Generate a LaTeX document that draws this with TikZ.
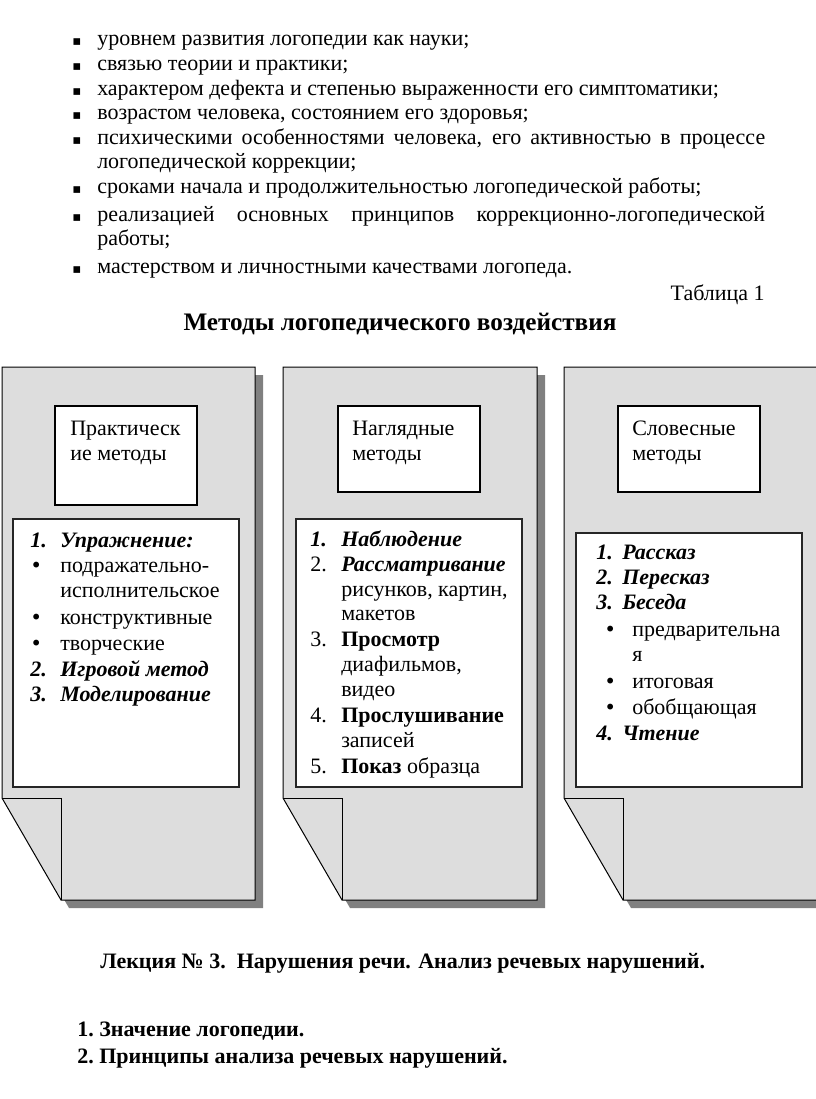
\documentclass[tikz,border=0pt]{standalone}
\usepackage{fontspec}
\setmainfont{Liberation Serif}
\newfontfamily\symfont{DejaVu Sans}
\definecolor{pagegray}{HTML}{DDDDDD}
\definecolor{shadowgray}{HTML}{808080}
\begin{document}
\begin{tikzpicture}[x=0.75pt,y=-0.75pt,
  txt/.style={anchor=base west,inner sep=0pt,font=\fontsize{16.5}{19}\selectfont},
  txtr/.style={anchor=base east,inner sep=0pt,font=\fontsize{16.5}{19}\selectfont},
  bold/.style={anchor=base west,inner sep=0pt,font=\fontsize{16.5}{19}\selectfont\bfseries},
  sq/.style={anchor=base west,inner sep=0pt,font=\symfont\fontsize{10}{11}\selectfont},
  dot/.style={anchor=base west,inner sep=0pt,font=\symfont\fontsize{15}{17}\selectfont},
  titlebox/.style={draw=black,fill=white,line width=2.2pt},
  contentbox/.style={draw=black!85,fill=white,line width=0.9pt},
  pageshape/.style={fill=pagegray,draw=black,line width=0.75pt}]
\useasboundingbox (0,0) rectangle (816,1099);

% ---------- top bullet list ----------
\foreach \y/\n in {46/a,70/b,95/c,119/d,144/e,193/f,221/g,273/h}
  \node[sq] (bul\n) at (72,\y) {▪};
\node[txt] (l1) at (97,46) {уровнем развития логопедии как науки;};
\node[txt] (l2) at (97,70) {связью теории и практики;};
\node[txt] (l3) at (97,95) {характером дефекта и степенью выраженности его симптоматики;};
\node[txt] (l4) at (97,119) {возрастом человека, состоянием его здоровья;};
\node[txt] (l5) at (97,144) {\makebox[501pt][s]{психическими особенностями человека, его активностью в процессе}};
\node[txt] (l5b) at (97,168) {логопедической коррекции;};
\node[txt] (l6) at (97,193) {сроками начала и продолжительностью логопедической работы;};
\node[txt] (l7) at (97,221) {\makebox[501pt][s]{реализацией основных принципов коррекционно-логопедической}};
\node[txt] (l7b) at (97,245) {работы;};
\node[txt] (l8) at (97,273) {мастерством и личностными качествами логопеда.};

\node[txtr] (tab) at (765,300) {Таблица 1};
\node[anchor=base,inner sep=0pt,font=\fontsize{18.9}{22}\selectfont\bfseries] (title) at (400,330) {Методы логопедического воздействия};

% ---------- pages ----------
\foreach \L/\R in {2/255,283/537,564/818}{
  \fill[shadowgray] (\L+8,375) -- (\R+8,375) -- (\R+8,908) -- (\L+67,908) -- (\L+8,806) -- cycle;
  \filldraw[pageshape] (\L,367) -- (\R,367) -- (\R,900) -- (\L+59,900) -- (\L,798) -- cycle;
  \draw[line width=0.75pt] (\L,798) -- (\L+59,798) -- (\L+59,900);
}

% title boxes
\draw[titlebox] (55,406) rectangle (197,505);
\draw[titlebox] (338,406) rectangle (480,492);
\draw[titlebox] (618,406) rectangle (760,492);
\node[txt] (t1a) at (70,435) {Практическ};
\node[txt] (t1b) at (70,460) {ие методы};
\node[txt] (t2a) at (352,435) {Наглядные};
\node[txt] (t2b) at (352,460) {методы};
\node[txt] (t3a) at (632,435) {Словесные};
\node[txt] (t3b) at (632,460) {методы};

% content boxes
\draw[contentbox] (13,519) rectangle (239,787);
\draw[contentbox] (296,519) rectangle (522,787);
\draw[contentbox] (576,533) rectangle (802,787);

% box 1
\node[txt] (c1n1) at (30,547) {\textbf{\textit{1.}}};
\node[txt] (c1t1) at (60,547) {\textbf{\textit{Упражнение:}}};
\node[dot] (c1b1) at (30,572) {•};
\node[txt] (c1t2) at (60,572) {подражательно-};
\node[txt] (c1t3) at (60,597) {исполнительское};
\node[dot] (c1b2) at (30,624) {•};
\node[txt] (c1t4) at (60,624) {конструктивные};
\node[dot] (c1b3) at (30,650) {•};
\node[txt] (c1t5) at (60,650) {творческие};
\node[txt] (c1n2) at (30,676) {\textbf{\textit{2.}}};
\node[txt] (c1t6) at (60,676) {\textbf{\textit{Игровой метод}}};
\node[txt] (c1n3) at (30,701) {\textbf{\textit{3.}}};
\node[txt] (c1t7) at (60,701) {\textbf{\textit{Моделирование}}};

% box 2
\node[txt] (c2n1) at (310,546) {\textbf{\textit{1.}}};
\node[txt] (c2t1) at (341,546) {\textbf{\textit{Наблюдение}}};
\node[txt] (c2n2) at (310,571) {2.};
\node[txt] (c2t2) at (341,571) {\textbf{\textit{Рассматривание}}};
\node[txt] (c2t3) at (341,596) {рисунков, картин,};
\node[txt] (c2t4) at (341,620) {макетов};
\node[txt] (c2n3) at (310,646) {3.};
\node[txt] (c2t5) at (341,646) {\textbf{Просмотр}};
\node[txt] (c2t6) at (341,671) {диафильмов,};
\node[txt] (c2t7) at (341,696) {видео};
\node[txt] (c2n4) at (310,722) {4.};
\node[txt] (c2t8) at (341,722) {\textbf{Прослушивание}};
\node[txt] (c2t9) at (341,747) {записей};
\node[txt] (c2n5) at (310,773) {5.};
\node[txt] (c2t10) at (341,773) {\textbf{Показ} образца};

% box 3
\node[txt] (c3n1) at (596,559) {\textbf{\textit{1.}}};
\node[txt] (c3t1) at (622,559) {\textbf{\textit{Рассказ}}};
\node[txt] (c3n2) at (596,584) {\textbf{\textit{2.}}};
\node[txt] (c3t2) at (622,584) {\textbf{\textit{Пересказ}}};
\node[txt] (c3n3) at (596,609) {\textbf{\textit{3.}}};
\node[txt] (c3t3) at (622,609) {\textbf{\textit{Беседа}}};
\node[dot] (c3b1) at (604,636) {•};
\node[txt] (c3t4) at (632,636) {предварительна};
\node[txt] (c3t5) at (632,661) {я};
\node[dot] (c3b2) at (604,688) {•};
\node[txt] (c3t6) at (632,688) {итоговая};
\node[dot] (c3b3) at (604,714) {•};
\node[txt] (c3t7) at (632,714) {обобщающая};
\node[txt] (c3n4) at (596,740) {\textbf{\textit{4.}}};
\node[txt] (c3t8) at (622,740) {\textbf{\textit{Чтение}}};

% ---------- bottom ----------
\node[bold] (lec) at (100,968) {Лекция № 3.\ \ Нарушения речи. Анализ речевых нарушений.};
\node[bold] (q1n) at (77,1036) {1.};
\node[bold] (q1) at (99,1036) {Значение логопедии.};
\node[bold] (q2n) at (77,1063) {2.};
\node[bold] (q2) at (99,1063) {Принципы анализа речевых нарушений.};
\end{tikzpicture}
\end{document}
